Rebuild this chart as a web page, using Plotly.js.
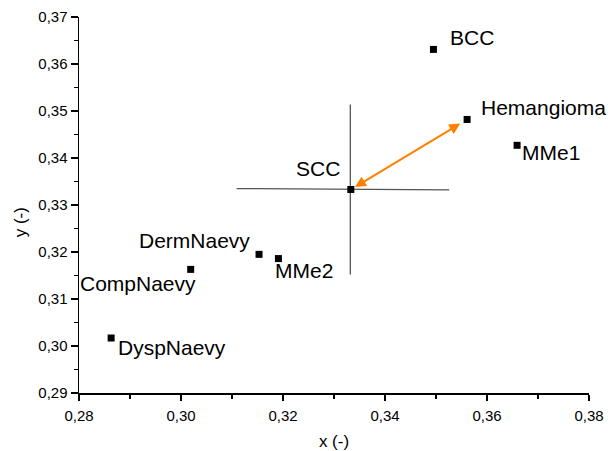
<!DOCTYPE html>
<html>
<head>
<meta charset="utf-8">
<script src="https://cdn.plot.ly/plotly-3.0.1.min.js"></script>
<style>
  html, body { margin: 0; padding: 0; background: #fff; }
  #chart { width: 608px; height: 451px; }
</style>
</head>
<body>
<div id="chart"></div>
<script>
// Lesion classes and their chromaticity coordinates
const names = ['BCC', 'Hemangioma', 'MMe1', 'SCC', 'DermNaevy', 'MMe2', 'CompNaevy', 'DyspNaevy'];
const xVals = [0.3495, 0.3561, 0.3659, 0.3333, 0.3153, 0.3191, 0.3019, 0.2863];
const yVals = [0.3631, 0.3482, 0.3427, 0.3333, 0.3195, 0.3186, 0.3163, 0.3017];

// Reference cross through SCC
const crossHX = [0.3109, 0.3526];
const crossHY = [0.3335, 0.3332];
const crossVX = [0.3332, 0.3332];
const crossVY = [0.3514, 0.3152];

// Label placement next to each marker (pixels)
const labelAnchor = ['left', 'left', 'left', 'right', 'right', 'left', 'right', 'left'];
const labelDX = [15, 12, 3, -9, -7, -5, 7, 5];
const labelDY = [12, 12, -7, 21, 14, -12, -14, -9];

const font = 'Arial, "Liberation Sans", sans-serif';

const traces = [
  {
    x: crossHX, y: crossHY, mode: 'lines', type: 'scatter',
    line: { color: '#555555', width: 1.3 }, hoverinfo: 'skip', showlegend: false
  },
  {
    x: crossVX, y: crossVY, mode: 'lines', type: 'scatter',
    line: { color: '#555555', width: 1.3 }, hoverinfo: 'skip', showlegend: false
  },
  {
    x: xVals, y: yVals, text: names, mode: 'markers', type: 'scatter',
    marker: { symbol: 'square', size: 7, color: '#000000' }, showlegend: false
  }
];

const annotations = names.map((n, i) => ({
  x: xVals[i], y: yVals[i], xref: 'x', yref: 'y',
  text: n, showarrow: false,
  xanchor: labelAnchor[i], yanchor: 'middle',
  xshift: labelDX[i], yshift: labelDY[i],
  font: { family: font, size: 21, color: '#000000' }
}));

// Double-headed arrow between SCC and Hemangioma
const iSCC = names.indexOf('SCC');
const iHem = names.indexOf('Hemangioma');
annotations.push({
  x: xVals[iHem], y: yVals[iHem], xref: 'x', yref: 'y',
  ax: xVals[iSCC], ay: yVals[iSCC], axref: 'x', ayref: 'y',
  text: '', showarrow: true, arrowside: 'end+start',
  arrowhead: 2, startarrowhead: 2, arrowsize: 1.1, startarrowsize: 1.1,
  arrowwidth: 2, arrowcolor: '#FF8000', standoff: 8, startstandoff: 3
});

// y-axis title, set slightly below the axis centre
annotations.push({
  xref: 'paper', yref: 'paper', x: -0.113, y: 0.455,
  text: 'y (-)', showarrow: false, textangle: -90,
  xanchor: 'center', yanchor: 'middle',
  font: { family: font, size: 17, color: '#000000' }
});

const layout = {
  width: 608, height: 451,
  margin: { l: 79, r: 19, t: 17, b: 58 },
  paper_bgcolor: '#ffffff', plot_bgcolor: '#ffffff',
  separators: ',.',
  font: { family: font, color: '#000000' },
  xaxis: {
    range: [0.28, 0.38], dtick: 0.02, tick0: 0.28, tickformat: '.2f',
    showgrid: false, zeroline: false, showline: true, linecolor: '#000', linewidth: 1.5,
    ticks: 'outside', ticklen: 6, tickwidth: 1.5, tickcolor: '#000',
    tickfont: { family: font, size: 15 }, ticklabelstandoff: 2,
    minor: { dtick: 0.01, ticks: 'outside', ticklen: 4, tickwidth: 1.5, tickcolor: '#000', showgrid: false },
    title: { text: 'x (-)', font: { family: font, size: 17 }, standoff: 14 }
  },
  yaxis: {
    range: [0.29, 0.37], dtick: 0.01, tick0: 0.29, tickformat: '.2f',
    showgrid: false, zeroline: false, showline: true, linecolor: '#000', linewidth: 1.5,
    ticks: 'outside', ticklen: 7, tickwidth: 1.5, tickcolor: '#000',
    tickfont: { family: font, size: 15 },
    minor: { dtick: 0.005, ticks: 'outside', ticklen: 4, tickwidth: 1.5, tickcolor: '#000', showgrid: false }
  },
  annotations: annotations
};

Plotly.newPlot('chart', traces, layout, { displayModeBar: false, staticPlot: true });
</script>
</body>
</html>
